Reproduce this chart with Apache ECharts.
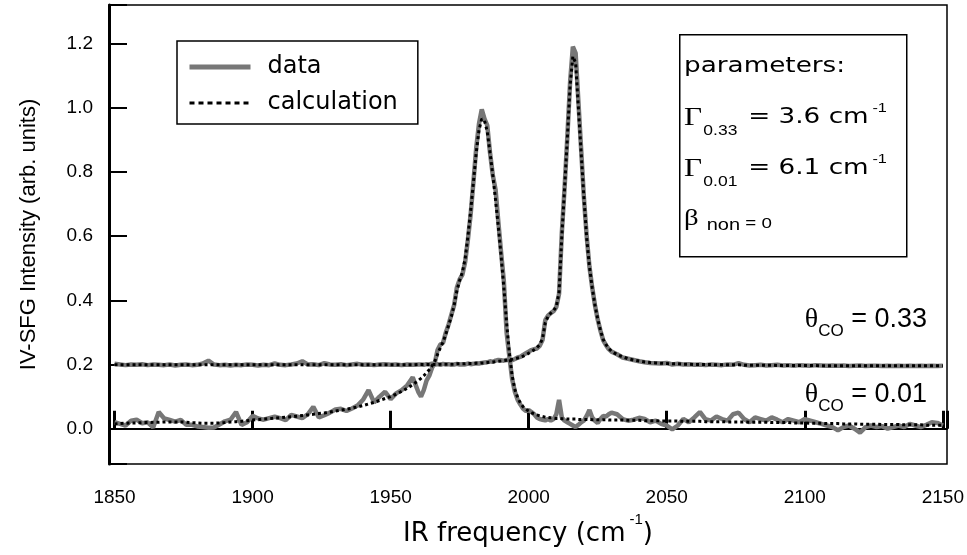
<!DOCTYPE html>
<html><head><meta charset="utf-8">
<script src="https://cdn.jsdelivr.net/npm/echarts@6/dist/echarts.min.js"></script>
<style>html,body{margin:0;padding:0;background:#fff}#c{width:967px;height:555px}</style>
</head><body><div id="c"></div>
<script>
// IR frequency (cm^-1) sample positions
const freq = [
1850,1852,1854,1856,1858,1860,1862,1864,1866,1868,
1870,1872,1874,1876,1878,1880,1882,1884,1886,1888,
1890,1892,1894,1896,1898,1900,1902,1904,1906,1908,
1910,1912,1914,1916,1918,1920,1922,1924,1926,1928,
1930,1932,1934,1936,1938,1940,1942,1944,1946,1948,
1950,1952,1954,1956,1958,1960,
1961,1962,1963,1964,1965,1966,1967,1968,1969,1970,
1971,1972,1973,1974,1975,1976,1977,1978,1979,1980,
1981,1982,1983,1984,1985,1986,1987,1988,1989,1990,
1991,1992,1993,1994,1995,1996,1997,1998,1999,2000,
2001,2002,2003,2004,2005,2006,2007,2008,2009,2010,
2011,2012,2013,2014,2015,2016,2017,2018,2019,2020,
2021,2022,2023,2024,2025,2026,2027,2028,2029,2030,
2032,2034,2036,2038,2040,2042,2044,2046,2048,2050,
2052,2054,2056,2058,2060,2062,2064,2066,2068,2070,
2072,2074,2076,2078,2080,2082,2084,2086,2088,2090,
2092,2094,2096,2098,2100,2102,2104,2106,2108,2110,
2112,2114,2116,2118,2120,2122,2124,2126,2128,2130,
2132,2134,2136,2138,2140,2142,2144,2146,2148,2150
];

// theta_CO = 0.01 : measured data
const dataLow = [
0.020,0.015,0.010,0.025,0.028,0.017,0.020,0.004,0.052,0.032,
0.027,0.022,0.027,0.012,0.012,0.007,0.005,0.003,0.004,0.013,
0.023,0.028,0.052,0.012,0.020,0.040,0.032,0.028,0.033,0.037,
0.033,0.027,0.043,0.038,0.033,0.045,0.068,0.035,0.042,0.050,
0.060,0.062,0.055,0.063,0.072,0.090,0.120,0.082,0.100,0.115,
0.092,0.110,0.120,0.135,0.160,0.115,
0.100,0.120,0.150,0.165,0.190,0.205,0.245,0.262,0.268,0.300,
0.325,0.355,0.385,0.440,0.465,0.480,0.520,0.590,0.670,0.770,
0.875,0.950,0.995,0.965,0.945,0.860,0.790,0.745,0.645,0.550,
0.460,0.300,0.225,0.155,0.115,0.090,0.075,0.062,0.055,0.058,
0.052,0.045,0.035,0.030,0.028,0.026,0.030,0.025,0.030,0.045,
0.090,0.035,0.025,0.020,0.015,0.010,0.005,0.012,0.020,0.025,
0.040,0.058,0.035,0.025,0.018,0.030,0.040,0.038,0.045,0.050,
0.045,0.030,0.025,0.028,0.034,0.030,0.020,0.025,0.015,0.010,
-0.002,0.010,0.030,0.020,0.035,0.052,0.030,0.025,0.038,0.030,
0.025,0.045,0.050,0.030,0.020,0.035,0.030,0.025,0.035,0.028,
0.020,0.030,0.025,0.020,0.030,0.025,0.020,0.015,0.010,0.005,
-0.005,0.005,0.010,0.000,-0.012,0.005,0.010,0.005,0.008,0.000,
0.005,0.010,0.005,0.015,0.010,0.005,0.012,0.020,0.018,0.010
];

// theta_CO = 0.33 : measured data
const dataHigh = [
0.202,0.200,0.198,0.200,0.199,0.201,0.198,0.200,0.199,0.198,
0.200,0.197,0.199,0.200,0.198,0.199,0.203,0.212,0.200,0.198,
0.199,0.197,0.199,0.198,0.200,0.199,0.197,0.199,0.198,0.203,
0.199,0.198,0.200,0.203,0.210,0.200,0.201,0.198,0.204,0.200,
0.199,0.201,0.198,0.200,0.202,0.199,0.200,0.198,0.200,0.201,
0.199,0.200,0.198,0.200,0.199,0.200,
0.200,0.199,0.201,0.200,0.203,0.200,0.201,0.199,0.202,0.200,
0.201,0.199,0.200,0.202,0.200,0.201,0.200,0.203,0.201,0.202,
0.204,0.203,0.205,0.206,0.207,0.210,0.208,0.212,0.214,0.213,
0.212,0.214,0.215,0.213,0.217,0.222,0.224,0.230,0.235,0.240,
0.245,0.248,0.250,0.258,0.276,0.338,0.352,0.360,0.366,0.379,
0.420,0.610,0.750,0.910,1.080,1.190,1.170,1.020,0.870,0.720,
0.600,0.505,0.440,0.385,0.340,0.305,0.275,0.260,0.248,0.240,
0.232,0.222,0.218,0.214,0.210,0.207,0.205,0.204,0.203,0.205,
0.200,0.202,0.200,0.201,0.199,0.200,0.198,0.200,0.199,0.198,
0.200,0.199,0.204,0.199,0.197,0.198,0.199,0.197,0.198,0.199,
0.197,0.198,0.196,0.198,0.197,0.196,0.198,0.197,0.196,0.197,
0.196,0.197,0.195,0.196,0.197,0.195,0.196,0.196,0.195,0.196,
0.195,0.196,0.195,0.196,0.195,0.196,0.195,0.196,0.195,0.196
];

// theta_CO = 0.01 : calculation
const calcLow = [
0.015,0.016,0.017,0.018,0.018,0.019,0.019,0.020,0.020,0.021,
0.021,0.021,0.021,0.020,0.019,0.018,0.017,0.017,0.017,0.018,
0.019,0.021,0.022,0.023,0.025,0.027,0.028,0.030,0.031,0.033,
0.034,0.036,0.037,0.039,0.041,0.043,0.045,0.047,0.049,0.052,
0.055,0.058,0.061,0.064,0.068,0.072,0.077,0.082,0.088,0.094,
0.100,0.108,0.116,0.126,0.137,0.150,
0.157,0.165,0.174,0.184,0.196,0.210,0.232,0.252,0.270,0.295,
0.322,0.350,0.385,0.430,0.462,0.488,0.530,0.600,0.680,0.770,
0.860,0.930,0.965,0.960,0.925,0.860,0.790,0.712,0.630,0.540,
0.440,0.330,0.235,0.165,0.122,0.097,0.080,0.068,0.060,0.055,
0.050,0.046,0.043,0.040,0.038,0.036,0.035,0.034,0.033,0.032,
0.032,0.031,0.031,0.030,0.030,0.030,0.030,0.029,0.029,0.029,
0.029,0.029,0.028,0.028,0.028,0.028,0.028,0.028,0.027,0.027,
0.027,0.027,0.026,0.026,0.026,0.025,0.025,0.025,0.024,0.024,
0.024,0.024,0.023,0.023,0.023,0.023,0.022,0.022,0.022,0.022,
0.021,0.021,0.021,0.021,0.020,0.020,0.020,0.020,0.019,0.019,
0.019,0.019,0.018,0.018,0.018,0.017,0.017,0.017,0.016,0.016,
0.016,0.015,0.015,0.015,0.014,0.014,0.014,0.014,0.013,0.013,
0.013,0.013,0.012,0.012,0.012,0.012,0.011,0.011,0.011,0.011
];

// theta_CO = 0.33 : calculation
const calcHigh = [
0.199,0.199,0.199,0.199,0.199,0.199,0.199,0.199,0.199,0.199,
0.199,0.199,0.199,0.199,0.199,0.199,0.199,0.199,0.199,0.199,
0.199,0.199,0.199,0.199,0.199,0.199,0.199,0.199,0.199,0.199,
0.199,0.199,0.199,0.199,0.199,0.199,0.199,0.199,0.199,0.199,
0.199,0.199,0.199,0.199,0.199,0.199,0.199,0.199,0.199,0.199,
0.199,0.199,0.199,0.199,0.199,0.200,
0.200,0.200,0.200,0.200,0.200,0.200,0.200,0.201,0.201,0.201,
0.201,0.201,0.201,0.202,0.202,0.202,0.202,0.203,0.203,0.203,
0.204,0.204,0.205,0.205,0.206,0.207,0.208,0.209,0.210,0.211,
0.212,0.213,0.214,0.216,0.218,0.220,0.222,0.226,0.230,0.235,
0.240,0.246,0.253,0.262,0.280,0.330,0.350,0.360,0.368,0.380,
0.425,0.600,0.750,0.905,1.070,1.160,1.140,1.000,0.860,0.720,
0.595,0.505,0.440,0.385,0.342,0.306,0.278,0.262,0.250,0.241,
0.231,0.224,0.218,0.214,0.211,0.208,0.206,0.205,0.204,0.203,
0.202,0.202,0.201,0.201,0.200,0.200,0.200,0.200,0.199,0.199,
0.199,0.199,0.199,0.198,0.198,0.198,0.198,0.198,0.198,0.197,
0.197,0.197,0.197,0.197,0.197,0.197,0.197,0.196,0.196,0.196,
0.196,0.196,0.196,0.196,0.196,0.196,0.196,0.196,0.196,0.196,
0.196,0.196,0.196,0.196,0.196,0.196,0.196,0.196,0.196,0.196
];

const legendNames = ['data', 'calculation'];
const xTitle = 'IR frequency (cm';
const yTitle = 'IV-SFG Intensity (arb. units)';

const pairs = arr => freq.map((f, i) => [f, arr[i]]);
const SANS = 'Liberation Sans';
const SERIF = 'Liberation Serif';

const DATA_COLOR = '#777777';
const dataStyle = { color: DATA_COLOR, width: 4.5 };
const calcStyle = { color: '#000', width: 3, type: [3, 3] };

const gammaRich = {
  g: { fontFamily: SERIF, fontSize: 25, fill: '#000', verticalAlign: 'middle' },
  b: { fontFamily: SANS, fontSize: 14, fill: '#000', padding: [26, 2, 0, 1], verticalAlign: 'middle' },
  m: { fontFamily: 'DejaVu Sans', fontSize: 21, fill: '#000', verticalAlign: 'middle' },
  p: { fontFamily: SANS, fontSize: 13, fill: '#000', padding: [0, 0, 20, 3], verticalAlign: 'middle' }
};
const thetaRich = {
  t: { fontFamily: SERIF, fontSize: 28, fill: '#000', verticalAlign: 'middle' },
  s: { fontFamily: SANS, fontSize: 17, fill: '#000', padding: [22, 0, 0, 0], verticalAlign: 'middle' },
  n: { fontFamily: SANS, fontSize: 27, fill: '#000', verticalAlign: 'middle' }
};

const legendLine = {
  data: { color: DATA_COLOR, width: 5 },
  calculation: { color: '#000', width: 3, type: [5, 4] }
};

const chart = echarts.init(document.getElementById('c'));
chart.setOption({
  animation: false,
  backgroundColor: '#fff',
  grid: { left: 109, right: 20, top: 5, bottom: 91, show: true, borderColor: '#000', borderWidth: 1.5 },
  legend: {
    data: legendNames.map(n => ({ name: n, lineStyle: legendLine[n] })),
    orient: 'vertical', left: 177, top: 41,
    padding: [14, 20, 9, 10], itemGap: 12, itemWidth: 61, itemHeight: 24,
    itemStyle: { opacity: 0 },
    borderColor: '#000', borderWidth: 1.5, backgroundColor: '#fff', selectedMode: false,
    textStyle: { fontFamily: 'DejaVu Sans', fontSize: 24, color: '#000', padding: [0, 0, 0, 12], width: 145 }
  },
  xAxis: {
    type: 'value', min: 1848, max: 2151.5, splitNumber: 6,
    axisLine: { lineStyle: { color: '#000', width: 2 } },
    axisTick: { inside: true, length: 18, lineStyle: { color: '#000', width: 3 } },
    axisLabel: { fontFamily: SANS, fontSize: 19, color: '#000', margin: 24,
      formatter: v => (Math.abs(v % 50) < 1e-6 ? String(v) : '') },
    splitLine: { show: false },
    name: '{n|' + xTitle + '}{s|-1}{n|)}', nameLocation: 'middle', nameGap: 45,
    nameTextStyle: {
      rich: {
        n: { fontFamily: 'DejaVu Sans', fontSize: 26, color: '#000', verticalAlign: 'middle' },
        s: { fontFamily: SANS, fontSize: 15, color: '#000', padding: [0, 0, 30, 4], verticalAlign: 'middle' }
      }
    }
  },
  yAxis: {
    type: 'value', min: -0.11, max: 1.32, splitNumber: 7,
    axisLine: { show: true, lineStyle: { color: '#000', width: 3 } },
    axisTick: { inside: true, length: 18, lineStyle: { color: '#000', width: 2 } },
    axisLabel: { fontFamily: SANS, fontSize: 19, color: '#000', margin: 16,
      formatter: v => { const r = Math.round(v * 5) / 5; return Math.abs(r - v) < 1e-6 ? r.toFixed(1) : ''; } },
    splitLine: { show: false },
    name: yTitle, nameLocation: 'middle', nameGap: 69,
    nameTextStyle: { fontFamily: SANS, fontSize: 22, color: '#000' }
  },
  series: [
    { name: 'data', type: 'line', data: pairs(dataHigh), symbol: 'none', lineStyle: dataStyle, itemStyle: { color: DATA_COLOR }, z: 2 },
    { name: 'data', type: 'line', data: pairs(dataLow), symbol: 'none', lineStyle: dataStyle, itemStyle: { color: DATA_COLOR }, z: 2 },
    { name: 'calculation', type: 'line', data: pairs(calcHigh), symbol: 'none', lineStyle: calcStyle, itemStyle: { color: '#000' }, z: 3 },
    { name: 'calculation', type: 'line', data: pairs(calcLow), symbol: 'none', lineStyle: calcStyle, itemStyle: { color: '#000' }, z: 3 }
  ],
  graphic: [
    { type: 'rect', left: 679, top: 34, z: 10,
      shape: { width: 227, height: 222 }, style: { fill: '#fff', stroke: '#000', lineWidth: 1.5 } },
    { type: 'text', x: 684, y: 67, scaleX: 1.25, z: 11,
      style: { text: 'parameters:', fontFamily: 'DejaVu Sans', fontSize: 21, fill: '#000', verticalAlign: 'middle' } },
    { type: 'text', x: 684, y: 118, scaleX: 1.25, z: 11,
      style: { text: '{g|Γ}{b|0.33}{m| = 3.6 cm}{p|-1}', verticalAlign: 'middle', rich: gammaRich } },
    { type: 'text', x: 684, y: 169, scaleX: 1.25, z: 11,
      style: { text: '{g|Γ}{b|0.01}{m| = 6.1 cm}{p|-1}', verticalAlign: 'middle', rich: gammaRich } },
    { type: 'text', x: 684, y: 219, scaleX: 1.25, z: 11,
      style: { text: '{g|β}{b| non}{m| = 0}', verticalAlign: 'middle',
        rich: {
          g: { fontFamily: SERIF, fontSize: 23, fill: '#000', verticalAlign: 'middle' },
          b: { fontFamily: SANS, fontSize: 16, fill: '#000', padding: [14, 0, 0, 2], verticalAlign: 'middle' },
          m: { fontFamily: SANS, fontSize: 15, fill: '#000', padding: [10, 0, 0, 0], verticalAlign: 'middle' }
        } } },
    { type: 'text', x: 927, y: 320, z: 11,
      style: { text: '{t|θ}{s|CO}{n| = 0.33}', align: 'right', verticalAlign: 'middle', rich: thetaRich } },
    { type: 'text', x: 927, y: 395, z: 11,
      style: { text: '{t|θ}{s|CO}{n| = 0.01}', align: 'right', verticalAlign: 'middle', rich: thetaRich } }
  ]
});
</script></body></html>
